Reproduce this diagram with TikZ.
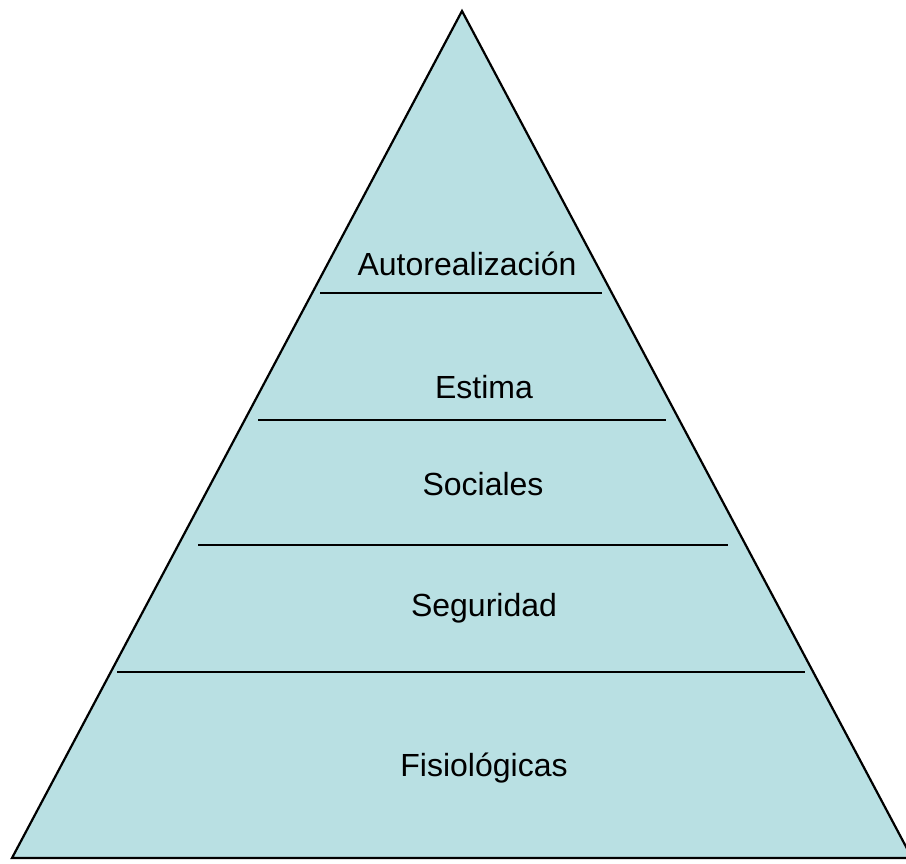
\documentclass[tikz,border=0pt]{standalone}
\usepackage{fontspec}
\setmainfont{Liberation Sans}
\usepackage{xcolor}
\usepackage{tikz}
\definecolor{pyrfill}{RGB}{185,224,227}

\begin{document}
\begin{tikzpicture}[
x=1pt, y=-1pt,
level/.style={font=\fontsize{32}{36}\selectfont, inner sep=0pt},
sep/.style={line width=2pt}
]
\useasboundingbox (0,0) rectangle (906,864);
\coordinate (apex) at (462,11);
\coordinate (bl) at (12,858);
\coordinate (br) at (912,858);
\draw[line width=2.2pt, fill=pyrfill, line join=miter] (apex) -- (bl) -- (br) -- cycle;
% separating lines
\draw[sep] (320,293) -- (602,293);
\draw[sep] (258,420) -- (666,420);
\draw[sep] (198,545) -- (728,545);
\draw[sep] (117,672) -- (805,672);
% levels
\node[level] (auto) at (467,264) {Autorealización};
\node[level] (estima) at (484,387) {Estima};
\node[level] (social) at (483,484) {Sociales};
\node[level] (segur) at (484,608) {Seguridad};
\node[level] (fisio) at (484,768) {Fisiológicas};
\end{tikzpicture}
\end{document}
